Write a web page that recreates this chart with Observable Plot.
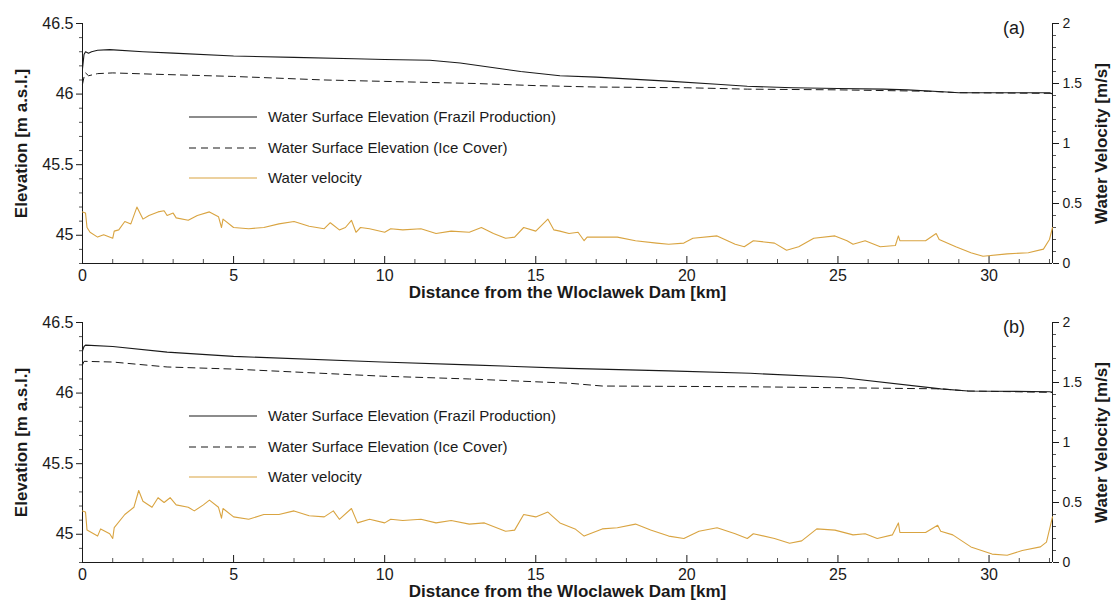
<!DOCTYPE html>
<html>
<head>
<meta charset="utf-8">
<script src="https://cdn.jsdelivr.net/npm/d3@7"></script>
<script src="https://cdn.jsdelivr.net/npm/@observablehq/plot@0.6"></script>
<style>
  html, body { margin: 0; padding: 0; background: #fff; }
  body { width: 1114px; height: 601px; overflow: hidden; font-family: "Liberation Sans", Arial, sans-serif; color: #1a1a1a; }
  .panel { position: relative; width: 1114px; }
  .panel svg { display: block; overflow: visible; }
  .legend { position: absolute; left: 189px; font-size: 15px; color: #1a1a1a; }
  .legend .row { position: absolute; left: 0; white-space: nowrap; height: 20px; }
  .legend .row svg { position: absolute; left: 0; top: 0; }
  .legend .row span { position: absolute; left: 79px; top: 1px; line-height: 18px; }
  .tag { position: absolute; font-size: 18px; color: #1a1a1a; }
  g[aria-label="y-axis label"] text, g[aria-label="x-axis label"] text { font-weight: bold; font-size: 17px; }
</style>
</head>
<body>
<div id="chart"></div>
<script>
// ---- data ----
const distTicks = [0, 5, 10, 15, 20, 25, 30];
const elevTicks = [45, 45.5, 46, 46.5];
const velTicks = [0, 0.5, 1, 1.5, 2];

// Panel (a)
const aFrazilX = [0, 0.05, 0.1, 0.2, 0.3, 0.5, 0.9, 2, 3, 5, 7, 9, 10, 11.5, 12.5, 13.5, 14.5, 15.8, 17, 19.5, 21, 22, 23.5, 25, 26.5, 27.3, 28.6, 29, 31, 32, 32.1];
const aFrazilY = [46.18, 46.28, 46.30, 46.29, 46.30, 46.31, 46.315, 46.30, 46.29, 46.27, 46.26, 46.25, 46.245, 46.24, 46.22, 46.19, 46.16, 46.13, 46.12, 46.09, 46.07, 46.055, 46.045, 46.04, 46.035, 46.03, 46.015, 46.01, 46.01, 46.01, 46.0];
const aIceX = [0, 0.05, 0.1, 0.2, 0.5, 1, 2.5, 5, 8, 10, 11, 13, 15, 16, 17, 20, 22, 25, 28, 29, 32.1];
const aIceY = [46.07, 46.12, 46.15, 46.13, 46.145, 46.15, 46.14, 46.125, 46.10, 46.09, 46.085, 46.075, 46.06, 46.055, 46.05, 46.045, 46.035, 46.03, 46.02, 46.01, 46.005];
const aVelX = [0, 0.1, 0.15, 0.25, 0.5, 0.7, 1.0, 1.05, 1.2, 1.4, 1.6, 1.8, 2.0, 2.2, 2.5, 2.7, 2.8, 3.0, 3.1, 3.5, 3.8, 4.2, 4.5, 4.6, 4.65, 5.0, 5.5, 6.0, 6.5, 7.0, 7.5, 8.0, 8.2, 8.5, 8.7, 8.9, 9.05, 9.2, 9.5, 10, 10.2, 10.6, 11.2, 11.7, 12.2, 12.8, 13.2, 13.6, 14.0, 14.3, 14.6, 15.0, 15.4, 15.6, 15.8, 16.1, 16.4, 16.6, 16.7, 17.2, 17.7, 18.3, 19.0, 19.4, 19.9, 20.2, 21.0, 21.6, 21.9, 22.2, 22.9, 23.3, 23.7, 24.2, 24.9, 25.3, 25.5, 25.9, 26.4, 26.9, 27.0, 27.05, 27.9, 28.25, 28.35, 28.9, 29.4, 29.8, 30.6, 31.3, 31.8, 32.0, 32.1];
const aVelY = [0.43, 0.42, 0.30, 0.26, 0.22, 0.24, 0.21, 0.27, 0.28, 0.35, 0.33, 0.47, 0.37, 0.40, 0.43, 0.44, 0.40, 0.42, 0.38, 0.36, 0.40, 0.43, 0.39, 0.30, 0.37, 0.30, 0.29, 0.30, 0.33, 0.35, 0.31, 0.29, 0.34, 0.28, 0.30, 0.36, 0.26, 0.30, 0.29, 0.26, 0.29, 0.28, 0.29, 0.25, 0.27, 0.26, 0.30, 0.25, 0.21, 0.22, 0.30, 0.27, 0.37, 0.28, 0.27, 0.25, 0.26, 0.19, 0.22, 0.22, 0.22, 0.19, 0.17, 0.16, 0.17, 0.21, 0.23, 0.16, 0.14, 0.19, 0.17, 0.11, 0.14, 0.21, 0.23, 0.19, 0.16, 0.19, 0.14, 0.15, 0.23, 0.19, 0.19, 0.25, 0.20, 0.14, 0.09, 0.06, 0.08, 0.09, 0.12, 0.20, 0.30];

// Panel (b)
const bFrazilX = [0, 0.05, 0.1, 1, 2.8, 5, 9.9, 12.8, 16.1, 19.4, 22.1, 25.1, 28.4, 29.3, 32, 32.1];
const bFrazilY = [46.30, 46.33, 46.34, 46.33, 46.29, 46.26, 46.22, 46.20, 46.175, 46.157, 46.14, 46.11, 46.03, 46.015, 46.01, 46.005];
const bIceX = [0, 0.05, 1, 2.8, 5, 9.9, 12.8, 16.1, 17.2, 22, 28.4, 29.3, 32.1];
const bIceY = [46.20, 46.225, 46.22, 46.185, 46.17, 46.12, 46.10, 46.07, 46.05, 46.045, 46.03, 46.015, 46.005];
const bVelX = [0, 0.1, 0.15, 0.5, 0.6, 0.9, 1.0, 1.05, 1.4, 1.7, 1.86, 2.0, 2.3, 2.5, 2.7, 2.9, 3.1, 3.5, 3.7, 4.0, 4.2, 4.5, 4.6, 4.65, 5.0, 5.5, 6.0, 6.5, 7.0, 7.5, 8.0, 8.3, 8.5, 8.9, 9.1, 9.5, 10.0, 10.2, 10.6, 11.2, 11.7, 12.2, 12.8, 13.3, 14.0, 14.3, 14.6, 15.0, 15.4, 15.8, 16.3, 16.6, 17.2, 17.7, 18.3, 18.8, 19.4, 19.9, 20.4, 21.0, 21.6, 22.0, 22.2, 22.9, 23.4, 23.8, 24.3, 24.9, 25.5, 25.9, 26.3, 26.8, 27.0, 27.05, 27.9, 28.3, 28.4, 28.8, 29.4, 30.1, 30.6, 31.1, 31.7, 31.9, 32.1];
const bVelY = [0.43, 0.42, 0.27, 0.22, 0.28, 0.24, 0.20, 0.29, 0.40, 0.46, 0.60, 0.51, 0.46, 0.54, 0.50, 0.54, 0.48, 0.46, 0.43, 0.48, 0.52, 0.46, 0.37, 0.45, 0.38, 0.36, 0.40, 0.40, 0.43, 0.39, 0.38, 0.43, 0.36, 0.45, 0.33, 0.36, 0.33, 0.36, 0.35, 0.36, 0.33, 0.35, 0.32, 0.33, 0.26, 0.27, 0.40, 0.38, 0.42, 0.33, 0.28, 0.22, 0.28, 0.29, 0.32, 0.27, 0.22, 0.20, 0.26, 0.29, 0.24, 0.20, 0.24, 0.20, 0.16, 0.18, 0.28, 0.27, 0.23, 0.24, 0.20, 0.23, 0.33, 0.25, 0.25, 0.31, 0.26, 0.23, 0.13, 0.07, 0.06, 0.10, 0.13, 0.17, 0.38];

const legendLabels = ["Water Surface Elevation (Frazil Production)", "Water Surface Elevation (Ice Cover)", "Water velocity"];
const panelTags = ["(a)", "(b)"];

// ---- helpers ----
const X_MAX = 32.1, E_MIN = 44.8, E_MAX = 46.5, V_MAX = 2;
const v2e = v => E_MIN + v * (E_MAX - E_MIN) / V_MAX;
const e2v = e => (e - E_MIN) * V_MAX / (E_MAX - E_MIN);
const zip = (xs, ys) => xs.map((x, i) => ({x, y: ys[i]}));
const ORANGE = "#d9a441";
const INK = "#1a1a1a";

const distMinor = d3.range(0, 33, 1).filter(d => d % 5 !== 0);
const elevMinor = d3.range(44.8, 46.55, 0.1).map(d => +d.toFixed(1)).filter(d => !elevTicks.includes(d));
const velMinor = d3.range(0, 2.05, 0.1).map(d => +d.toFixed(1)).filter(d => !velTicks.includes(d));

function panel(frazil, ice, vel, mt, mb) {
  const frameH = 240;
  return Plot.plot({
    width: 1114,
    height: mt + frameH + mb,
    marginLeft: 82, marginRight: 62, marginTop: mt, marginBottom: mb,
    x: {domain: [0, X_MAX]},
    y: {domain: [E_MIN, E_MAX]},
    style: {fontFamily: '"Liberation Sans", Arial, sans-serif', fontSize: "16px", color: INK, background: "transparent", overflow: "visible"},
    marks: [
      Plot.axisY({ticks: elevTicks, tickSize: 6, tickPadding: 3, tickFormat: d => String(d),
        label: "Elevation [m a.s.l.]", labelAnchor: "center", labelOffset: 68, labelArrow: "none", stroke: INK}),
      Plot.axisY({ticks: elevMinor, tickSize: 3, tickFormat: () => "", label: null, stroke: "#555"}),
      Plot.axisY({anchor: "right", ticks: velTicks.map(v2e), tickSize: 6, tickPadding: 4, fontSize: 14,
        tickFormat: e => String(+e2v(e).toFixed(1)),
        label: "Water Velocity [m/s]", labelAnchor: "center", labelOffset: 54, labelArrow: "none", stroke: INK}),
      Plot.axisY({anchor: "right", ticks: velMinor.map(v2e), tickSize: 3, tickFormat: () => "", label: null, stroke: "#555"}),
      Plot.axisX({ticks: distTicks, tickSize: 0, tickPadding: 6, tickFormat: d => String(d),
        label: "Distance from the Wloclawek Dam [km]", labelAnchor: "center", labelOffset: 34, labelArrow: "none"}),
      Plot.tickX(distTicks, {x: d => d, insetTop: frameH - 7, stroke: INK}),
      Plot.tickX(distMinor, {x: d => d, insetTop: frameH - 4, stroke: "#555"}),
      Plot.ruleX([0, X_MAX], {stroke: INK}),
      Plot.ruleY([E_MIN], {stroke: INK}),
      Plot.line(zip(vel[0], vel[1]), {x: "x", y: d => v2e(d.y), stroke: ORANGE, strokeWidth: 1.1}),
      Plot.line(zip(ice[0], ice[1]), {x: "x", y: "y", stroke: INK, strokeWidth: 1, strokeDasharray: "7,5"}),
      Plot.line(zip(frazil[0], frazil[1]), {x: "x", y: "y", stroke: INK, strokeWidth: 1.1})
    ]
  });
}

function legend(top) {
  const div = document.createElement("div");
  div.className = "legend";
  div.style.top = top + "px";
  const styles = [{stroke: INK, dash: null}, {stroke: INK, dash: "7,5"}, {stroke: ORANGE, dash: null}];
  legendLabels.forEach((lab, i) => {
    const row = document.createElement("div");
    row.className = "row";
    row.style.top = (i * 30.5) + "px";
    row.innerHTML = `<svg width="70" height="20"><line x1="0" x2="68" y1="10" y2="10" stroke="${styles[i].stroke}" stroke-width="1.1" ${styles[i].dash ? `stroke-dasharray="${styles[i].dash}"` : ""}/></svg><span>${lab}</span>`;
    div.appendChild(row);
  });
  return div;
}

const root = document.getElementById("chart");
const cfg = [
  {data: [[aFrazilX, aFrazilY], [aIceX, aIceY], [aVelX, aVelY]], mt: 23, mb: 37, legendTop: 107, tagTop: 18},
  {data: [[bFrazilX, bFrazilY], [bIceX, bIceY], [bVelX, bVelY]], mt: 22, mb: 39, legendTop: 106, tagTop: 17}
];
cfg.forEach((c, i) => {
  const wrap = document.createElement("div");
  wrap.className = "panel";
  wrap.appendChild(panel(c.data[0], c.data[1], c.data[2], c.mt, c.mb));
  wrap.appendChild(legend(c.legendTop));
  const tag = document.createElement("div");
  tag.className = "tag";
  tag.textContent = panelTags[i];
  tag.style.left = "1003px";
  tag.style.top = c.tagTop + "px";
  wrap.appendChild(tag);
  root.appendChild(wrap);
});
</script>
</body>
</html>
